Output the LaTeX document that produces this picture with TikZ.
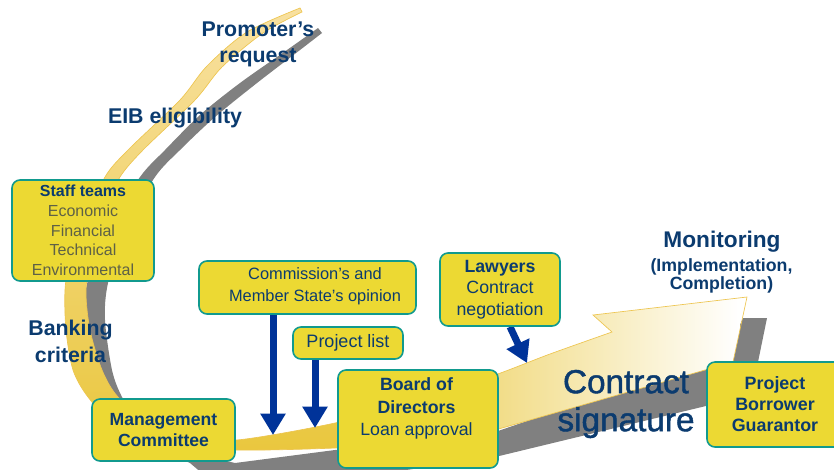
\documentclass[tikz,border=0pt]{standalone}
\usepackage{fontspec}
\setmainfont{Liberation Sans}
\usetikzlibrary{arrows.meta,calc}

\definecolor{boxfill}{HTML}{ECD933}
\definecolor{boxline}{HTML}{119A8E}
\definecolor{navy}{HTML}{0B3B6F}
\definecolor{staffgray}{HTML}{5E6146}
\definecolor{arrowblue}{HTML}{003399}
\definecolor{shadowgray}{HTML}{808080}
\definecolor{bandpale}{HTML}{F8E1A2}
\definecolor{bandmid}{HTML}{F1C75C}
\definecolor{bandlow}{HTML}{E9C63A}
\definecolor{bandedge}{HTML}{EDC550}

\pgfdeclarelayer{back}
\pgfdeclarelayer{mid}
\pgfsetlayers{back,mid,main}

\begin{document}
\begin{tikzpicture}[x=0.75pt,y=-0.75pt,
  panel/.style={draw=boxline, line width=1.2pt, fill=boxfill, rounded corners=6pt,
    align=center, inner sep=0pt, text=navy},
  tag/.style={text=navy, align=center, inner sep=0pt,
    font=\bfseries\fontsize{16}{19.5}\selectfont},
  feed/.style={draw=arrowblue, line width=5.25pt,
    -{Triangle[width=18pt,length=16pt]}}]

\useasboundingbox (0,0) rectangle (834,469);

% ---------- boxes ----------
\node[panel, minimum width=106.5pt, minimum height=75.75pt,
      font=\fontsize{12}{14.8}\selectfont] (staff) at (83,230.5)
  {{\bfseries Staff teams}\\
   \textcolor{staffgray}{Economic}\\
   \textcolor{staffgray}{Financial}\\
   \textcolor{staffgray}{Technical}\\
   \textcolor{staffgray}{Environmental}};

\node[panel, minimum width=162.75pt, minimum height=39.75pt] (comm) at (307.5,287.5) {};
\node[text=navy, align=center, inner sep=0pt, font=\fontsize{12.3}{16.5}\selectfont]
  (commtext) at (315,286) {Commission’s and\\Member State’s opinion};

\node[panel, minimum width=82.5pt, minimum height=24pt,
      font=\fontsize{13.5}{16}\selectfont] (plist) at (348,343) {Project list};

\node[panel, minimum width=90pt, minimum height=54.75pt,
      font=\fontsize{13.3}{16.1}\selectfont] (lawyers) at (500,289.5)
  {{\bfseries Lawyers}\\Contract\\negotiation};

\node[panel, minimum width=107.25pt, minimum height=46.5pt,
      font=\bfseries\fontsize{13.2}{15.75}\selectfont] (mgmt) at (163.5,430)
  {Management\\Committee};

\node[panel, minimum width=120pt, minimum height=73.5pt] (board) at (418,419) {};
\node[text=navy, align=center, inner sep=0pt, font=\fontsize{13.3}{16.9}\selectfont]
  (boardtext) at (416.5,408.5) {{\bfseries Board of}\\{\bfseries Directors}\\Loan approval};

\node[panel, minimum width=102pt, minimum height=63.75pt,
      font=\bfseries\fontsize{13.4}{15.75}\selectfont] (proj) at (775,404.5)
  {Project\\Borrower\\Guarantor};

% ---------- stage labels ----------
\node[tag] (promoter) at (258,44) {Promoter’s\\request};
\node[tag] (eib) at (175,118) {EIB eligibility};
\node[tag, font=\bfseries\fontsize{16}{20.25}\selectfont] (banking) at (70.5,341.5) {Banking\\criteria};
\node[tag, font=\bfseries\fontsize{17}{20}\selectfont] (monitor) at (722,242) {Monitoring};
\node[tag, font=\bfseries\fontsize{13.3}{13.5}\selectfont] (monsub) at (721.5,276)
  {(Implementation,\\Completion)};
\node[tag, font=\fontsize{25}{28.5}\selectfont\addfontfeatures{FakeBold=1.3}] (contract)
  at (626,404) {Contract\\signature};

% ---------- process band with its shadow ----------
\begin{pgfonlayer}{back}
  \fill[shadowgray]
    plot[smooth] coordinates {(318,28) (287,50) (240,83) (200,115) (165,150) (140,177)
      (108,230) (88,280) (84,320) (95,375)}
    -- (140,430) -- (200,455) -- (235,463) -- (335,450) -- (420,440) -- (498,431)
    -- (600,396) -- (700,366) -- (731,345) -- (743,318) -- (767,318) -- (758,362)
    -- (745,400) -- (710,405) -- (495,457) -- (338,480) -- (210,480)
    -- plot[smooth] coordinates {(190,463) (165,450) (140,425) (122,397) (112,370)
      (105,320) (108,283) (125,230) (155,177) (180,150) (215,117) (257,83) (300,50) (322,33)}
    -- cycle;

  \def\bandpath{plot[smooth] coordinates {(300,8) (247,32) (207,66) (180,100) (128,150)
      (105,177) (84,225) (70,260) (65,290) (66,330) (73,370) (88,397) (115,425) (160,444)
      (235,450) (335,448) (420,442) (495,430)}
    -- (733,362) -- (747,297) -- (593,315)
    -- plot[smooth] coordinates {(612,332) (550,354) (495,375) (420,400) (335,423)
      (237,440) (190,436) (150,422) (118,397) (102,370) (90,330) (86,290) (92,250)
      (105,210) (120,177) (143,150) (195,100) (222,67) (263,33) (302,12)}
    -- cycle}

  \begin{scope}
    \clip \bandpath;
    \shade[top color=bandpale, middle color=bandmid, bottom color=bandlow]
      (0,0) rectangle (338,470);
    \shade[left color=bandlow, right color=white] (338,0) rectangle (740,470);
  \end{scope}
  \draw[bandedge, line width=0.5pt] \bandpath;
\end{pgfonlayer}

% ---------- inputs feeding the band ----------
\coordinate (tipA) at (273,435);
\coordinate (tipB) at (315,428);
\coordinate (tipC) at (527,363);
\begin{pgfonlayer}{mid}
  \draw[feed] (comm.south -| tipA) -- (tipA);
  \draw[feed] (plist.south -| tipB) -- (tipB);
  \draw[feed] ($(lawyers.south)+(10,0)$) -- (tipC);
\end{pgfonlayer}

\end{tikzpicture}
\end{document}
